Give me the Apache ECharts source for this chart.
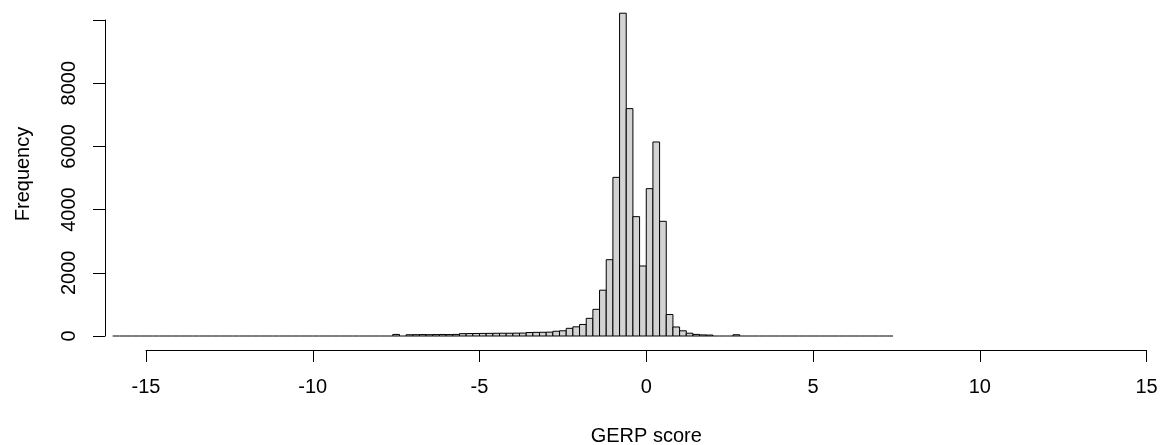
<!DOCTYPE html>
<html>
<head>
<meta charset="utf-8">
<script src="https://cdn.jsdelivr.net/npm/echarts@6/dist/echarts.min.js"></script>
<style>
html,body{margin:0;padding:0;background:#fff;}
#chart{width:1164px;height:445px;}
</style>
</head>
<body>
<div id="chart"></div>
<script>
// Histogram of GERP scores: bins of width 0.2 from -16.0 to 7.4
const binStart = -16.0;
const binWidth = 0.2;
const counts = [
  // -16.0 .. -7.8 (42 bins)
  0,0,0,0,0,0,0,0,0,0, 0,0,0,0,0,0,0,0,0,0,
  0,0,0,0,0,0,0,0,0,0, 0,0,0,0,0,0,0,0,0,0,
  0,0,
  // -7.6, -7.4
  50, 0,
  // -7.2 .. -5.8
  40, 42, 45, 42, 45, 48, 45, 50,
  // -5.6 .. -3.8
  75, 78, 80, 82, 84, 86, 88, 88, 90, 92,
  // -3.6 .. -3.0
  110, 115, 118, 122,
  // -2.8 .. -2.0
  150, 165, 243, 290, 365,
  // -1.8 .. -0.2
  559, 844, 1450, 2415, 5020, 10215, 7195, 3777, 2216,
  // 0.0 .. 1.8
  4663, 6140, 3629, 680, 285, 165, 88, 50, 35, 30,
  // 2.0 .. 2.8
  0, 0, 0, 40, 0,
  // 3.0 .. 7.2
  0,0,0,0,0,0,0,0,0,0, 0,0,0,0,0,0,0,0,0,0, 0,0
];
const xTicks = [-15, -10, -5, 0, 5, 10, 15];
const yTicks = [0, 2000, 4000, 6000, 8000, 10000];
const yLabels = ['0', '2000', '4000', '6000', '8000', ''];
const xTitle = 'GERP score';
const yTitle = 'Frequency';

const binData = counts.map((c, i) => [binStart + i * binWidth, binStart + (i + 1) * binWidth, c]);

const font = '"Liberation Sans", Arial, sans-serif';
const chart = echarts.init(document.getElementById('chart'));
chart.setOption({
  animation: false,
  backgroundColor: '#ffffff',
  grid: { left: 146, right: 17.5, top: 20, bottom: 109, containLabel: false, outerBoundsMode: 'none' },
  xAxis: {
    type: 'value',
    min: xTicks[0], max: xTicks[xTicks.length - 1], interval: 5,
    offset: 14,
    name: xTitle, nameLocation: 'middle', nameGap: 76,
    nameTextStyle: { fontFamily: font, fontSize: 20, color: '#000' },
    axisLine: { show: true, onZero: false, lineStyle: { color: '#000', width: 1 } },
    axisTick: { show: true, length: 12, lineStyle: { color: '#000', width: 1 } },
    axisLabel: { fontFamily: font, fontSize: 20, color: '#000', margin: 27 },
    splitLine: { show: false }
  },
  yAxis: {
    type: 'value',
    min: yTicks[0], max: yTicks[yTicks.length - 1], interval: 2000,
    offset: 41,
    name: yTitle, nameLocation: 'middle', nameGap: 72, nameRotate: 90,
    nameTextStyle: { fontFamily: font, fontSize: 20, color: '#000', padding: [0, 0, 0, 8] },
    axisLine: { show: true, onZero: false, lineStyle: { color: '#000', width: 1 } },
    axisTick: { show: true, length: 12, lineStyle: { color: '#000', width: 1 } },
    axisLabel: {
      fontFamily: font, fontSize: 20, color: '#000', margin: 26, rotate: 90,
      formatter: v => yLabels[yTicks.indexOf(v)] ?? ''
    },
    splitLine: { show: false }
  },
  series: [{
    type: 'custom',
    clip: false,
    data: binData,
    encode: { x: [0, 1], y: 2 },
    renderItem: function (params, api) {
      const x0 = api.value(0), x1 = api.value(1), c = api.value(2);
      const pTop = api.coord([x0, c]);
      const pBot = api.coord([x1, 0]);
      if (c === 0) {
        return {
          type: 'line',
          shape: { x1: pTop[0], y1: pBot[1], x2: pBot[0], y2: pBot[1] },
          style: { stroke: '#000', lineWidth: 1 }
        };
      }
      return {
        type: 'rect',
        shape: { x: pTop[0], y: pTop[1], width: pBot[0] - pTop[0], height: pBot[1] - pTop[1] },
        style: { fill: '#d3d3d3', stroke: '#000', lineWidth: 1 }
      };
    }
  }]
});
</script>
</body>
</html>
